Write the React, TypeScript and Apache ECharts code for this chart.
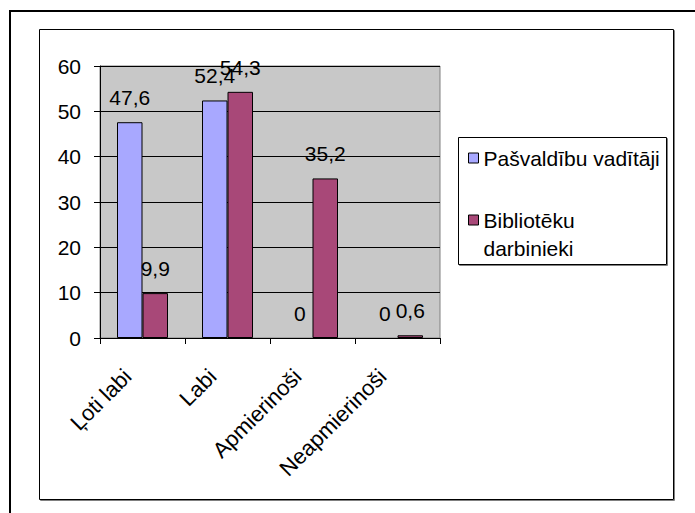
import React, { useEffect, useRef } from "react";
import * as echarts from "echarts";

const categories = ["Ļoti labi", "Labi", "Apmierinoši", "Neapmierinoši"];
const seriesNames = ["Pašvaldību vadītāji", "Bibliotēku darbinieki"];
const vaditajiValues = [47.6, 52.4, 0, 0];
const darbiniekiValues = [9.9, 54.3, 35.2, 0.6];
const yTicks = { min: 0, max: 60, interval: 10 };

const FONT = "'Liberation Sans', Arial, sans-serif";
const FS = 21;
const BLUE = "#A8A8FF";
const RED = "#A84878";

export default function App() {
  const ref = useRef<HTMLDivElement>(null);
  useEffect(() => {
    if (!ref.current) return;
    const chart = echarts.init(ref.current, undefined, { renderer: "svg" });
    const fmt = (p: any) => String(p.value).replace(".", ",");
    const labelCfg = {
      show: true,
      position: "top",
      distance: 14,
      formatter: fmt,
      color: "#000",
      fontSize: FS,
      fontFamily: FONT,
    };
    const toItems = (vals: number[]) =>
      vals.map((v) => (v === 0 ? { value: v, itemStyle: { borderWidth: 0 } } : v));
    chart.setOption({
      animation: false,
      backgroundColor: "#fff",
      textStyle: { fontFamily: FONT },
      graphic: [
        {
          type: "rect",
          z: -10,
          silent: true,
          shape: { x: 10, y: 11, width: 800, height: 700 },
          style: { fill: "none", stroke: "#000", lineWidth: 2 },
        },
        {
          type: "rect",
          z: -10,
          silent: true,
          shape: { x: 40.5, y: 30.5, width: 634, height: 470 },
          style: { fill: "none", stroke: "#808080", lineWidth: 1 },
        },
        {
          type: "rect",
          z: -9,
          silent: true,
          shape: { x: 39.5, y: 29.5, width: 634, height: 470 },
          style: { fill: "#fff", stroke: "#000", lineWidth: 1 },
        },
        {
          type: "rect",
          z: -8,
          silent: true,
          shape: { x: 459.5, y: 138.5, width: 208, height: 127 },
          style: { fill: "none", stroke: "#808080", lineWidth: 1 },
        },
        {
          type: "rect",
          z: -7,
          silent: true,
          shape: { x: 458.5, y: 137.5, width: 208, height: 127 },
          style: { fill: "#fff", stroke: "#000", lineWidth: 1 },
        },
      ],
      legend: [
        {
          data: [seriesNames[0]],
          orient: "vertical",
          left: 468,
          top: 144,
          padding: 0,
          itemWidth: 10,
          itemHeight: 10,
          icon: "rect",
          textStyle: { fontSize: FS, color: "#000", fontFamily: FONT, lineHeight: 28 },
          itemStyle: { borderColor: "#000", borderWidth: 1 },
        },
        {
          data: [seriesNames[1]],
          orient: "vertical",
          left: 468,
          top: 178,
          padding: 0,
          itemWidth: 10,
          itemHeight: 10,
          icon: "rect",
          formatter: (name: string) => " \n" + name.replace(" ", "\n"),
          textStyle: { fontSize: FS, color: "#000", fontFamily: FONT, lineHeight: 28 },
          itemStyle: { borderColor: "#000", borderWidth: 1 },
        },
      ],
      grid: {
        left: 100,
        top: 66,
        width: 340,
        height: 272,
        show: true,
        backgroundColor: "#C8C8C8",
        borderColor: "#808080",
        borderWidth: 1,
        containLabel: false,
      },
      xAxis: {
        type: "category",
        data: categories,
        boundaryGap: true,
        axisLine: { show: true, lineStyle: { color: "#000", width: 1 } },
        axisTick: { show: true, length: 6, lineStyle: { color: "#000" } },
        axisLabel: {
          interval: 0,
          rotate: 45,
          margin: 20,
          padding: [0, 21, 0, 0],
          fontSize: 22,
          color: "#000",
          fontFamily: FONT,
        },
        splitLine: { show: false },
      },
      yAxis: {
        type: "value",
        min: yTicks.min,
        max: yTicks.max,
        interval: yTicks.interval,
        axisLine: { show: true, lineStyle: { color: "#000", width: 1 } },
        axisTick: { show: true, length: 6, lineStyle: { color: "#000" } },
        axisLabel: { margin: 19, fontSize: FS, color: "#000", fontFamily: FONT },
        splitLine: { show: true, lineStyle: { color: "#000", width: 1 } },
      },
      series: [
        {
          name: seriesNames[0],
          type: "bar",
          data: toItems(vaditajiValues),
          barGap: "0%",
          barCategoryGap: "40%",
          itemStyle: { color: BLUE, borderColor: "#000", borderWidth: 1 },
          label: labelCfg,
        },
        {
          name: seriesNames[1],
          type: "bar",
          data: toItems(darbiniekiValues),
          barGap: "0%",
          barCategoryGap: "40%",
          itemStyle: { color: RED, borderColor: "#000", borderWidth: 1 },
          label: labelCfg,
        },
      ],
    });
    return () => chart.dispose();
  }, []);
  return (
    <div
      ref={ref}
      style={{ position: "fixed", left: 0, top: 0, width: 695, height: 513 }}
    />
  );
}
